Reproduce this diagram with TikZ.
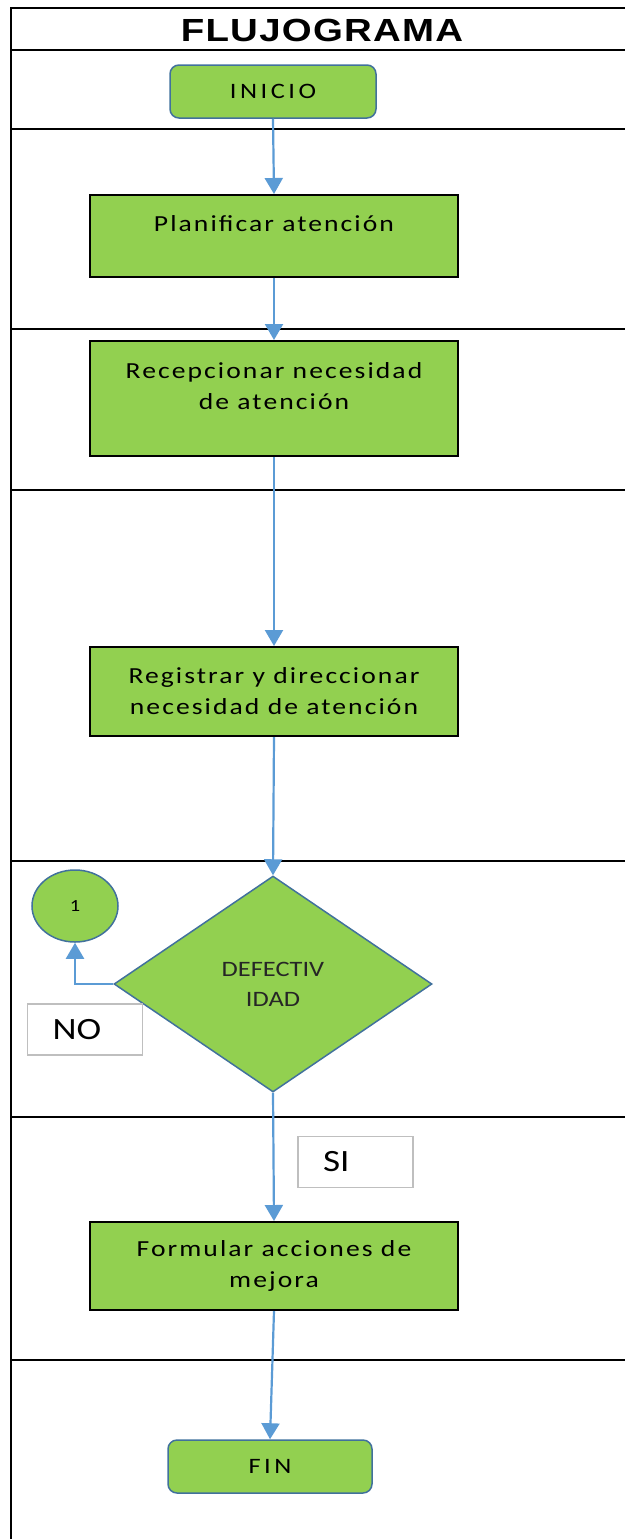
\documentclass[tikz,border=0pt]{standalone}
\usepackage{fontspec}
\setmainfont{Carlito}
\newfontfamily\titlefont{Liberation Sans Bold}[FakeStretch=1.2,LetterSpace=4]
\newfontfamily\boxfont{Carlito}[FakeStretch=1.2,LetterSpace=9]
\newfontfamily\wideboxfont{Carlito}[FakeStretch=1.2,LetterSpace=16]
\newfontfamily\plainfont{Carlito}[FakeStretch=1.2]
\usetikzlibrary{shapes.geometric,arrows.meta}

\definecolor{boxgreen}{HTML}{92D050}
\definecolor{arrowblue}{HTML}{5B9BD5}
\definecolor{edgeblue}{HTML}{41719C}
\definecolor{tagedge}{HTML}{BFBFBF}
\definecolor{darktext}{HTML}{262626}

\tikzset{
  lane/.style={line width=2.5pt, black},
  procbox/.style={draw=black, line width=2pt, fill=boxgreen, minimum width=368pt, inner sep=0pt},
  proctext/.style={font=\boxfont\fontsize{23}{31}\selectfont, align=center, inner sep=0pt},
  termbox/.style={draw=edgeblue, line width=1.5pt, fill=boxgreen, rounded corners=9pt,
    minimum height=53pt, inner sep=0pt, font=\wideboxfont\fontsize{22}{26}\selectfont},
  decision/.style={diamond, draw=edgeblue, line width=1.5pt, fill=boxgreen, minimum width=318pt,
    minimum height=216pt, inner sep=0pt, align=center, text=darktext,
    font=\plainfont\fontsize{22}{30}\selectfont},
  connector/.style={ellipse, draw=edgeblue, line width=1.5pt, fill=boxgreen, minimum width=86pt,
    minimum height=72pt, inner sep=0pt, font=\plainfont\fontsize{17}{19}\selectfont},
  tag/.style={draw=tagedge, line width=1.5pt, fill=white, minimum height=51pt, inner ysep=0pt,
    inner xsep=25pt, text width=65pt, align=left, font=\plainfont\fontsize{31}{34}\selectfont},
  flow/.style={draw=arrowblue, line width=2.2pt, -{Triangle[length=16pt,width=18pt]}}
}

\begin{document}
\begin{tikzpicture}[x=1pt,y=-1pt]
  \useasboundingbox (0,0) rectangle (624,1539);

  % swimlane frame
  \draw[lane] (11,1545) -- (11,8) -- (630,8);
  \foreach \yy in {50,129,329,490,861,1117,1360}
    \draw[lane] (11,\yy) -- (630,\yy);
  \node[font=\titlefont\fontsize{32}{36}\selectfont] (title) at (322,30) {FLUJOGRAMA};

  % steps
  \node[termbox, minimum width=206pt] (inicio) at (273,91.5) {INICIO};

  \node[procbox, minimum height=82pt] (plan) at (274,236) {};
  \node[proctext, yshift=12pt] (plantxt) at (plan) {Planificar atención};

  \node[procbox, minimum height=115pt] (recep) at (274,398.5) {};
  \node[proctext, yshift=12.5pt] (receptxt) at (recep) {Recepcionar necesidad\\de atención};

  \node[procbox, minimum height=89pt] (regis) at (274,691.5) {};
  \node[proctext] (registxt) at (regis) {Registrar y direccionar\\necesidad de atención};

  \node[decision] (dec) at (273,984) {DEFECTIV\\IDAD};
  \node[connector] (one) at (75,906) {1};
  \node[tag] (no) at (85,1029.5) {NO};
  \node[tag] (si) at (355.5,1162) {SI};

  \node[procbox, minimum height=88pt] (form) at (274,1266) {};
  \node[proctext] (formtxt) at (form) {Formular acciones de\\mejora};

  \node[termbox, minimum width=204pt] (fin) at (270,1466.5) {FIN};

  % connectors
  \draw[flow] (inicio.south) -- (plan.north);
  \draw[flow] (plan.south) -- (recep.north);
  \draw[flow] (recep.south) -- (regis.north);
  \draw[flow] (regis.south) -- (dec.north);
  \draw[flow] (dec.west) -| (one.south);
  \draw[flow] (dec.south) -- (form.north);
  \draw[flow] (form.south) -- (fin.north);
\end{tikzpicture}
\end{document}
